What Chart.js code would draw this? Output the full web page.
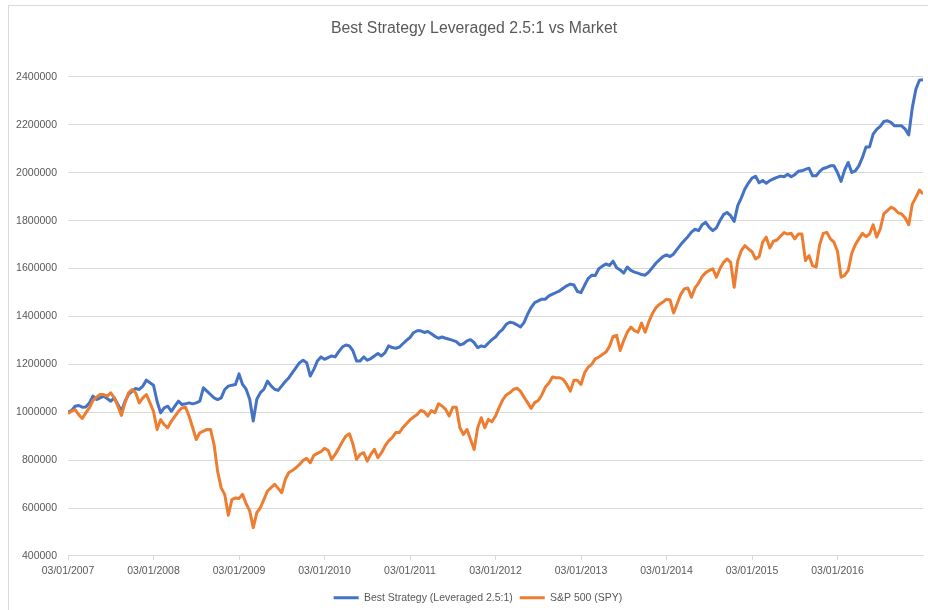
<!DOCTYPE html>
<html>
<head>
<meta charset="utf-8">
<script src="https://cdn.jsdelivr.net/npm/chart.js@4.4.1/dist/chart.umd.min.js"></script>
<style>
  html, body { margin: 0; padding: 0; background: #ffffff; }
  #wrap { width: 928px; height: 610px; }
</style>
</head>
<body>
<div id="wrap"><canvas id="c" width="928" height="610"></canvas></div>
<script>
// Half-monthly samples from 03/01/2007 to 03/01/2017 (24 per year)
const tickLabels = ['03/01/2007','03/01/2008','03/01/2009','03/01/2010','03/01/2011',
                    '03/01/2012','03/01/2013','03/01/2014','03/01/2015','03/01/2016'];
const samplesPerYear = 24;

const strategy = [
 1000000,1007000,1025000,1028000,1021000,1022000,1039000,1067000,1053000,1060000,1067000,1057000,
 1046000,1060000,1032000,1004000,1046000,1074000,1088000,1099000,1095000,1109000,1134000,1123000,
 1113000,1046000,997000,1018000,1025000,1004000,1025000,1046000,1032000,1035000,1039000,1035000,
 1039000,1046000,1102000,1088000,1074000,1060000,1053000,1060000,1095000,1109000,1113000,1116000,
 1160000,1116000,1096000,1054000,963000,1054000,1082000,1096000,1130000,1110000,1096000,1091000,
 1110000,1128000,1144000,1165000,1186000,1207000,1217000,1207000,1151000,1179000,1214000,1231000,
 1221000,1228000,1235000,1231000,1253000,1272000,1281000,1277000,1256000,1214000,1214000,1231000,
 1217000,1224000,1235000,1245000,1235000,1249000,1277000,1270000,1267000,1272000,1286000,1300000,
 1312000,1332000,1340000,1340000,1333000,1337000,1328000,1317000,1309000,1314000,1309000,1305000,
 1300000,1295000,1281000,1286000,1298000,1303000,1291000,1270000,1277000,1273000,1289000,1303000,
 1314000,1333000,1346000,1367000,1376000,1373000,1365000,1356000,1374000,1409000,1437000,1458000,
 1465000,1472000,1472000,1486000,1493000,1500000,1507000,1518000,1528000,1535000,1531000,1504000,
 1500000,1530000,1558000,1572000,1571000,1599000,1610000,1619000,1613000,1631000,1603000,1594000,
 1581000,1606000,1592000,1585000,1581000,1575000,1572000,1585000,1603000,1622000,1636000,1650000,
 1657000,1650000,1661000,1681000,1700000,1717000,1733000,1752000,1764000,1758000,1783000,1793000,
 1772000,1758000,1770000,1800000,1825000,1834000,1821000,1797000,1863000,1895000,1932000,1957000,
 1978000,1985000,1958000,1968000,1956000,1967000,1974000,1981000,1986000,1983000,1994000,1983000,
 1992000,2006000,2008000,2014000,2019000,1987000,1987000,2006000,2018000,2022000,2029000,2029000,
 2001000,1964000,2011000,2043000,2001000,2008000,2029000,2064000,2108000,2108000,2161000,2181000,
 2194000,2214000,2217000,2210000,2196000,2196000,2196000,2182000,2158000,2272000,2349000,2386000,
 2388000
];

const spy = [
 995000,1004000,1011000,990000,974000,997000,1018000,1049000,1063000,1074000,1074000,1067000,
 1081000,1060000,1025000,987000,1039000,1081000,1095000,1081000,1039000,1060000,1074000,1039000,
 1004000,928000,969000,948000,935000,962000,983000,1004000,1018000,1021000,983000,935000,
 886000,914000,921000,928000,928000,865000,753000,684000,656000,570000,635000,642000,
 640000,657000,618000,588000,518000,581000,601000,636000,671000,685000,699000,682000,
 664000,720000,748000,757000,768000,782000,799000,807000,789000,820000,828000,835000,
 849000,841000,803000,824000,849000,877000,901000,910000,866000,803000,824000,831000,
 796000,824000,845000,810000,831000,859000,880000,894000,915000,915000,936000,952000,
 968000,980000,990000,1007000,1002000,984000,1007000,998000,1035000,1026000,1012000,984000,
 1021000,1021000,935000,907000,928000,886000,844000,935000,977000,935000,970000,960000,
 984000,1019000,1051000,1072000,1081000,1095000,1100000,1088000,1063000,1040000,1016000,1040000,
 1049000,1072000,1105000,1122000,1147000,1144000,1144000,1137000,1116000,1088000,1133000,1133000,
 1116000,1165000,1188000,1200000,1223000,1230000,1241000,1251000,1275000,1316000,1321000,1258000,
 1300000,1334000,1355000,1341000,1334000,1372000,1334000,1376000,1411000,1436000,1450000,1460000,
 1472000,1469000,1414000,1453000,1492000,1515000,1519000,1480000,1519000,1539000,1567000,1583000,
 1592000,1599000,1564000,1599000,1626000,1640000,1626000,1522000,1633000,1675000,1696000,1682000,
 1670000,1640000,1650000,1710000,1731000,1686000,1714000,1719000,1735000,1750000,1744000,1747000,
 1724000,1744000,1744000,1633000,1654000,1612000,1606000,1700000,1747000,1751000,1724000,1710000,
 1672000,1564000,1571000,1592000,1664000,1700000,1724000,1747000,1733000,1744000,1783000,1731000,
 1765000,1828000,1842000,1856000,1849000,1833000,1828000,1811000,1783000,1869000,1897000,1928000,
 1911000
];

const FONT = "'Liberation Sans', Arial, sans-serif";
const TXT = '#595959';
const GRID = '#d9d9d9';

const toPoints = arr => arr.map((v, i) => ({ x: i, y: v }));

const framePlugin = {
  id: 'chartFrame',
  afterLayout(chart) {
    // nudge title and legend to the reference's centring
    if (chart.titleBlock) { chart.titleBlock.left += 7; chart.titleBlock.right += 7; }
    if (chart.legend) {
      chart.legend.left += 11; chart.legend.right += 11;
      chart.legend.top += 3; chart.legend.bottom += 3;
    }
  },
  beforeDraw(chart) {
    const ctx = chart.ctx;
    ctx.save();
    ctx.fillStyle = '#ffffff';
    ctx.fillRect(0, 0, chart.width, chart.height);
    ctx.strokeStyle = GRID;
    ctx.lineWidth = 1;
    ctx.strokeRect(8.5, 5.5, chart.width + 20, chart.height + 20);
    ctx.restore();
  }
};

new Chart(document.getElementById('c'), {
  type: 'line',
  data: {
    datasets: [
      {
        label: 'Best Strategy (Leveraged 2.5:1)',
        data: toPoints(strategy),
        borderColor: '#4472C4',
        backgroundColor: '#4472C4',
        borderWidth: 3,
        pointRadius: 0,
        tension: 0,
        borderJoinStyle: 'round',
        order: 1
      },
      {
        label: 'S&P 500 (SPY)',
        data: toPoints(spy),
        borderColor: '#ED7D31',
        backgroundColor: '#ED7D31',
        borderWidth: 3,
        pointRadius: 0,
        tension: 0,
        borderJoinStyle: 'round',
        order: 0
      }
    ]
  },
  options: {
    responsive: false,
    animation: false,
    parsing: false,
    layout: { padding: { left: 8, right: 2, top: 0, bottom: 0 } },
    plugins: {
      title: {
        display: true,
        text: 'Best Strategy Leveraged 2.5:1 vs Market',
        color: TXT,
        font: { family: FONT, size: 15.8, weight: 'normal' },
        padding: { top: 19, bottom: 39 }
      },
      legend: {
        display: true,
        position: 'bottom',
        labels: {
          color: TXT,
          font: { family: FONT, size: 10.5 },
          usePointStyle: true,
          pointStyle: 'line',
          pointStyleWidth: 25,
          padding: 7,
          sort: (a, b) => a.datasetIndex - b.datasetIndex
        }
      },
      tooltip: { enabled: false }
    },
    scales: {
      x: {
        type: 'linear',
        min: 0,
        max: tickLabels.length * samplesPerYear,
        ticks: {
          stepSize: samplesPerYear,
          autoSkip: false,
          maxRotation: 0,
          color: TXT,
          font: { family: FONT, size: 10.5 },
          padding: 5,
          callback: (v) => {
            const k = Math.round(v / samplesPerYear);
            return tickLabels[k] !== undefined ? tickLabels[k] : '';
          }
        },
        grid: {
          drawOnChartArea: false,
          drawTicks: true,
          tickLength: 4,
          tickColor: (c) => (c.tick && c.tick.value >= tickLabels.length * samplesPerYear) ? 'rgba(0,0,0,0)' : GRID
        },
        border: { display: true, color: GRID, width: 1 }
      },
      y: {
        min: 400000,
        max: 2400000,
        afterFit: (s) => { s.width = 60; },
        ticks: {
          stepSize: 200000,
          color: TXT,
          font: { family: FONT, size: 10.5 },
          padding: 11,
          callback: (v) => String(v)
        },
        grid: { color: GRID, drawTicks: false, lineWidth: 1 },
        border: { display: false }
      }
    }
  },
  plugins: [framePlugin]
});
</script>
</body>
</html>
